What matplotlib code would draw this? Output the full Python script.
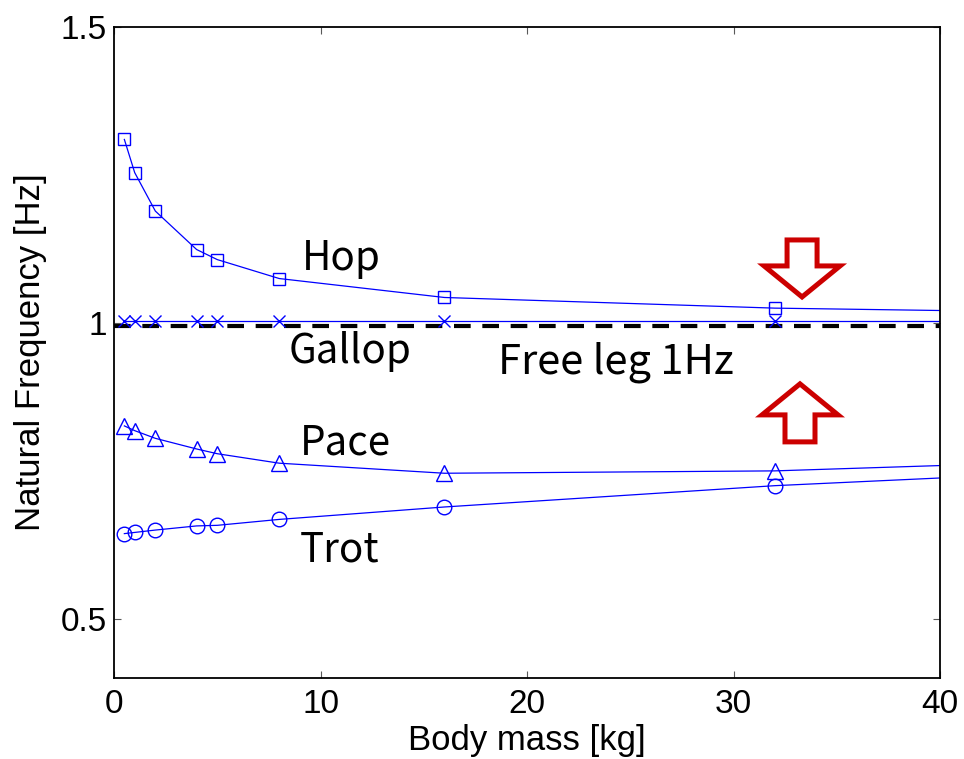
import matplotlib
matplotlib.use('Agg')
import matplotlib.pyplot as plt
from matplotlib.patches import Polygon

# body mass [kg]; last point (40) is only where the line ends, no marker
mass = [0.5, 1, 2, 4, 5, 8, 16, 32, 40]
hop = [1.310, 1.254, 1.189, 1.124, 1.107, 1.075, 1.043, 1.025, 1.021]
gallop = [1.004, 1.004, 1.004, 1.004, 1.004, 1.004, 1.004, 1.004, 1.004]
pace = [0.826, 0.818, 0.805, 0.787, 0.779, 0.763, 0.746, 0.750, 0.759]
trot = [0.644, 0.646, 0.650, 0.657, 0.658, 0.668, 0.689, 0.725, 0.738]
free_leg = 0.995

xticks = [0, 10, 20, 30, 40]
yticks = [0.5, 1, 1.5]
ytick_labels = ['0.5', '1', '1.5']

LABEL_FONT = ['Noto Sans CJK JP', 'DejaVu Sans']
BLUE = '#0000ff'
RED = '#cc0000'


def block_arrow(ax, xc, y_tail, y_tip, shaft_w, head_w, head_len):
    d = 1 if y_tip > y_tail else -1
    y_head = y_tip - d * head_len
    pts = [(xc - shaft_w / 2, y_tail), (xc - shaft_w / 2, y_head),
           (xc - head_w / 2, y_head), (xc, y_tip),
           (xc + head_w / 2, y_head), (xc + shaft_w / 2, y_head),
           (xc + shaft_w / 2, y_tail)]
    ax.add_patch(Polygon(pts, closed=True, facecolor='white', edgecolor=RED,
                         linewidth=3.6, joinstyle='miter', zorder=5))


plt.rcParams['font.family'] = ['Liberation Sans', 'DejaVu Sans']

fig = plt.figure(figsize=(9.64, 7.59), dpi=100)
ax = fig.add_axes([0.1183, 0.1067, 0.8568, 0.8577])

mk = dict(color=BLUE, lw=0.9, mfc='none', mec=BLUE, mew=1.0,
          markevery=slice(0, 8))
ax.plot(mass, hop, marker='s', ms=9, **mk)
ax.plot(mass, gallop, marker='x', ms=8, **mk)
ax.plot(mass, pace, marker='^', ms=11, **mk)
ax.plot(mass, trot, marker='o', ms=10.5, **mk)
ax.axhline(free_leg, color='black', lw=3, dashes=(4, 2.8), zorder=1)

ax.text(9.1, 1.0895, 'Hop', fontsize=29, family=LABEL_FONT)
ax.text(8.47, 0.9324, 'Gallop', fontsize=29, family=LABEL_FONT)
ax.text(18.6, 0.9139, 'Free leg 1Hz', fontsize=30, family=LABEL_FONT)
ax.text(9.01, 0.777, 'Pace', fontsize=29, family=LABEL_FONT)
ax.text(9.01, 0.5963, 'Trot', fontsize=29, family=LABEL_FONT)

block_arrow(ax, 33.32, 1.1402, 1.0439, 1.453, 3.68, 0.0524)
block_arrow(ax, 33.22, 0.799, 0.897, 1.453, 3.68, 0.0524)

ax.set_xlim(0, 40)
ax.set_ylim(0.4, 1.5)
ax.set_xticks(xticks)
ax.set_yticks(yticks)
ax.set_yticklabels(ytick_labels)
ax.tick_params(direction='in', length=5, width=0.8, color='0.35',
               labelsize=24, top=True, right=True)
ax.tick_params(axis='x', pad=8)
ax.tick_params(axis='y', pad=5)
for s in ax.spines.values():
    s.set_linewidth(1.3)

ax.set_xlabel('Body mass [kg]', fontsize=25, labelpad=3)
ax.set_ylabel('Natural Frequency [Hz]', fontsize=25, labelpad=10)

fig.savefig('out.png', dpi=100)
